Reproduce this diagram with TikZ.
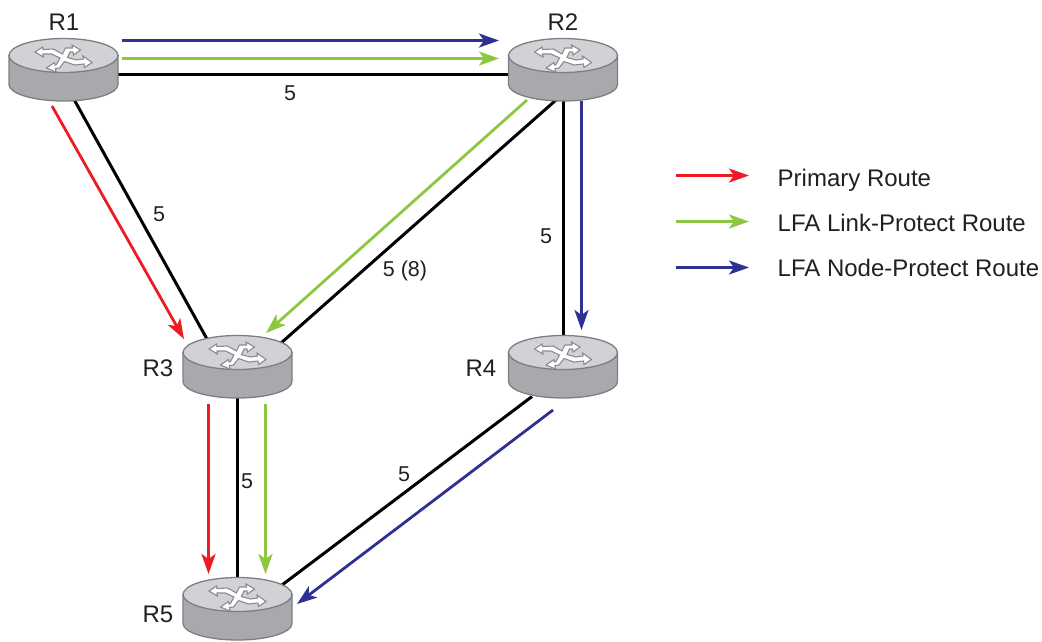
\documentclass[tikz,border=0pt]{standalone}
\usepackage{fontspec}
\setmainfont{Liberation Sans}
\usetikzlibrary{arrows.meta}
\definecolor{rred}{HTML}{ED1C24}
\definecolor{rgreen}{HTML}{8DC63F}
\definecolor{rblue}{HTML}{2E3192}
\definecolor{rtop}{HTML}{D1D1D6}
\definecolor{rside}{HTML}{A9A9AD}
\definecolor{redge}{HTML}{7C7F82}
\definecolor{txt}{HTML}{231F20}
\tikzset{
  x=1pt,y=-1pt,
  rnode/.style={minimum width=109pt,minimum height=62pt,inner sep=0pt,outer sep=0pt},
  link/.style={black,line width=3pt},
  route/.style={line width=2.8pt,-{Stealth[length=20pt,width=14pt,inset=5pt]}},
  rlabel/.style={font=\fontsize{24}{28}\selectfont,text=txt,inner sep=0pt},
  wlabel/.style={font=\fontsize{21.5}{25}\selectfont,text=txt,inner sep=0pt},
  leglabel/.style={font=\fontsize{24}{28}\selectfont,text=txt,inner sep=0pt,anchor=west},
  rbody/.style={fill=rside,draw=redge,line width=1.3pt},
  rface/.style={fill=rtop,draw=redge,line width=1.3pt},
  xmark/.style={fill=white,draw=redge!90,line width=1.1pt,line join=miter}
}
\newcommand{\rtrshape}[2]{%
  \begin{scope}[shift={(#1,#2)}]
    \draw[rbody] (-54.5,16.5) -- (-54.5,45.5) arc[start angle=180,end angle=360,x radius=54.5pt,y radius=16.5pt] -- (54.5,16.5) -- cycle;
    \draw[rface] (0,16.5) ellipse[x radius=54.5pt,y radius=17pt];
    \begin{scope}[shift={(0,16.5)}]
      \draw[xmark] (-28.5,-3.5) -- (-21,-8.5) -- (-20.5,-6) -- (-10,-6.5) -- (-1,-1.5) -- (2,-7.5) -- (9,-7.5) -- (8.5,-10.5) -- (17,-5.5) -- (10,-0.5) -- (9.5,-3.5) -- (6.5,-3.5) -- (4,2) -- (13,4.5) -- (20,3.5) -- (19.5,0.5) -- (28.5,7) -- (21,12) -- (20.5,8.5) -- (11,9.5) -- (1,6) -- (-4,12.5) -- (-8,13) -- (-7.5,16.5) -- (-17,12.5) -- (-9,7) -- (-8.5,9.5) -- (-7,9) -- (-3.5,2.5) -- (-12,-1.5) -- (-20.5,-1.5) -- (-20,1.5) -- cycle;
    \end{scope}
  \end{scope}}
\begin{document}
\begin{tikzpicture}
\useasboundingbox (0,0) rectangle (1042,641);
% router anchors
\node[rnode] (R1) at (63.5,70) {};
\node[rnode] (R2) at (563,70) {};
\node[rnode] (R3) at (237.5,367.5) {};
\node[rnode] (R4) at (563,367.5) {};
\node[rnode] (R5) at (237.5,609) {};
% links
\draw[link] ([yshift=-4pt]R1.center) -- ([yshift=-4pt]R2.center);
\draw[link] ([xshift=-5.8pt]R1.center) -- ([xshift=-14.7pt]R3.center);
\draw[link] ([shift={(-7pt,-30pt)}]R2.center) -- ([shift={(43.5pt,24.5pt)}]R3.center);
\draw[link] (R2.center) -- (R4.center);
\draw[link] (R3.center) -- (R5.center);
\draw[link] ([shift={(-31pt,-29pt)}]R4.center) -- ([shift={(44.5pt,24pt)}]R5.center);
% route end points
\coordinate (a1) at (122,40.5);  \coordinate (a2) at (499,40.5);
\coordinate (b1) at (122,58.5);  \coordinate (b2) at (499,58.5);
\coordinate (c1) at (52,106);  \coordinate (c2) at (184,339);
\coordinate (d1) at (527,100); \coordinate (d2) at (266,333);
\coordinate (e1) at (581.5,101); \coordinate (e2) at (581.5,330);
\coordinate (f1) at (208.5,404); \coordinate (f2) at (208.5,574);
\coordinate (g1) at (265.5,404); \coordinate (g2) at (265.5,574);
\coordinate (h1) at (553,410); \coordinate (h2) at (297,604);
\coordinate (l1) at (676,175.5); \coordinate (l2) at (749,175.5);
\coordinate (m1) at (676,221.5); \coordinate (m2) at (749,221.5);
\coordinate (n1) at (676,267.5); \coordinate (n2) at (749,267.5);
\draw[route,rblue] (a1) -- (a2);
\draw[route,rgreen] (b1) -- (b2);
\draw[route,rred] (c1) -- (c2);
\draw[route,rgreen] (d1) -- (d2);
\draw[route,rblue] (e1) -- (e2);
\draw[route,rred] (f1) -- (f2);
\draw[route,rgreen] (g1) -- (g2);
\draw[route,rblue] (h1) -- (h2);
\draw[route,rred] (l1) -- (l2);
\draw[route,rgreen] (m1) -- (m2);
\draw[route,rblue] (n1) -- (n2);
% routers
\rtrshape{63.5}{39}
\rtrshape{563}{39}
\rtrshape{237.5}{336}
\rtrshape{563}{336}
\rtrshape{237.5}{578}
% labels
\node[rlabel] (t1) at (64,22) {R1};
\node[rlabel] (t2) at (563,22) {R2};
\node[rlabel] (t3) at (158,368) {R3};
\node[rlabel] (t4) at (481,368) {R4};
\node[rlabel] (t5) at (158,614) {R5};
\node[wlabel] (w1) at (290,93) {5};
\node[wlabel] (w2) at (159,214) {5};
\node[wlabel] (w3) at (405,271) {5 (8)};
\node[wlabel] (w4) at (546,236) {5};
\node[wlabel] (w5) at (247,481) {5};
\node[wlabel] (w6) at (404,474) {5};
\node[leglabel] (k1) at (777.5,180) {Primary Route};
\node[leglabel] (k2) at (777.5,223) {LFA Link-Protect Route};
\node[leglabel] (k3) at (777.5,268) {LFA Node-Protect Route};
\end{tikzpicture}
\end{document}
